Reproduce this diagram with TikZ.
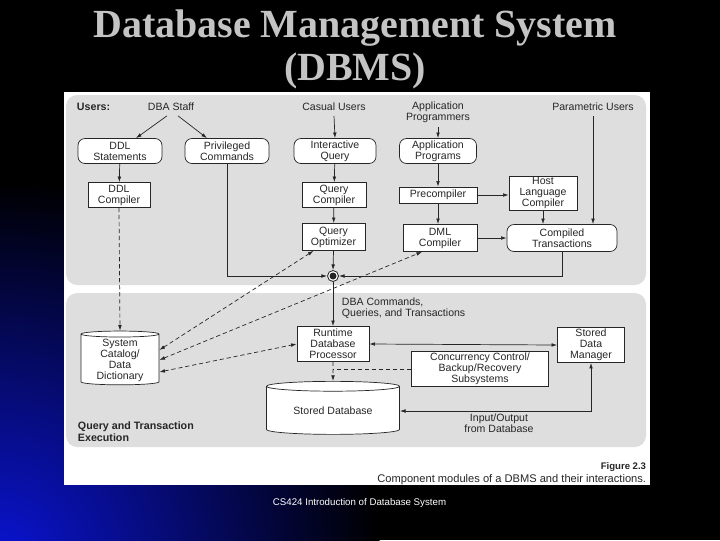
\documentclass[tikz,border=0pt]{standalone}
\usepackage{fontspec}
\setmainfont{Liberation Sans}
\newfontfamily\titlefont{Liberation Serif}
\usetikzlibrary{positioning,arrows.meta,shapes.geometric,calc}
\definecolor{panel}{HTML}{DEDEDE}
\definecolor{ink}{HTML}{262626}
\definecolor{titlegray}{HTML}{C4C4C4}
\definecolor{slideblue}{HTML}{0A14D2}

\begin{document}
\begin{tikzpicture}[x=0.025cm, y=-0.025cm, >={Latex[length=4pt,width=2.6pt]},
    every node/.style={font=\fontsize{7.5}{7.8}\selectfont, text=ink},
    box/.style={draw=ink, fill=white, line width=0.5pt, align=center, inner sep=1pt},
    rbox/.style={box, rounded corners=5pt},
    drum/.style={box, cylinder, shape border rotate=90, aspect=0.12},
    lbl/.style={align=center},
    flow/.style={->, draw=ink, line width=0.5pt},
    dflow/.style={flow, dash pattern=on 3pt off 2pt}]
  \useasboundingbox (0,0) rectangle (720,540);
  % slide background
  \begin{scope}
    \clip (0,0) rectangle (720,540);
    \fill[black] (0,0) rectangle (720,540);
    \shade[inner color=slideblue, outer color=black] (0,560) circle (380);
  \end{scope}
  \fill[white] (64,92) rectangle (650,485);
  \fill[panel, rounded corners=8pt] (66,95) rectangle (646,285);
  \fill[panel, rounded corners=8pt] (66,293) rectangle (646,447);

  \node[font=\titlefont\bfseries\fontsize{28.4}{30}\selectfont, text=titlegray, anchor=base] (title1) at (355,37) {Database Management System};
  \node[font=\titlefont\bfseries\fontsize{28.4}{30}\selectfont, text=titlegray, anchor=base] (title2) at (355,80) {(DBMS)};

  % users
  \node[font=\fontsize{7.6}{8}\selectfont\bfseries, anchor=west] (users) at (72,107) {Users:};
  \node[lbl] (dba) at (171,107) {DBA Staff};
  \node[lbl] (casual) at (334,107) {Casual Users};
  \node[lbl] (appprog) at (438,112) {Application\\Programmers};
  \node[lbl] (param) at (593,107) {Parametric Users};

  % top modules
  \node[rbox, minimum width=2.1cm, minimum height=0.625cm] (ddls) at (120,151) {DDL\\Statements};
  \node[rbox, minimum width=2.1cm, minimum height=0.625cm] (privc) at (227,151) {Privileged\\Commands};
  \node[rbox, minimum width=2.05cm, minimum height=0.625cm] (iq) at (335,151) {Interactive\\Query};
  \node[rbox, minimum width=1.925cm, minimum height=0.625cm] (apppr) at (438,151) {Application\\Programs};
  \node[box, minimum width=1.55cm, minimum height=0.625cm] (ddlc) at (119,195) {DDL\\Compiler};
  \node[box, minimum width=1.6cm, minimum height=0.625cm] (qcomp) at (334,195) {Query\\Compiler};
  \node[box, minimum width=1.95cm, minimum height=0.4cm] (precomp) at (438,195) {Precompiler};
  \node[box, minimum width=1.7cm, minimum height=0.8cm] (hlc) at (543,193) {Host\\Language\\Compiler};
  \node[box, minimum width=1.575cm, minimum height=0.675cm] (qopt) at (333.5,237) {Query\\Optimizer};
  \node[box, minimum width=1.85cm, minimum height=0.675cm] (dmlc) at (440,238) {DML\\Compiler};
  \node[rbox, minimum width=2.75cm, minimum height=0.675cm] (ct) at (562,238) {Compiled\\Transactions};
  \node[circle, draw=ink, fill=white, line width=0.6pt, inner sep=0pt, minimum size=0.275cm] (jn) at (333,276) {};
  \fill[ink] (jn.center) circle (3.5);

  % execution modules
  \node[lbl, anchor=west, align=left] (dbacmd) at (337,308) {DBA Commands,\\Queries, and Transactions};
  \node[box, minimum width=1.8cm, minimum height=0.875cm] (rdp) at (333,344) {Runtime\\Database\\Processor};
  \node[drum, minimum width=1.95cm, minimum height=1.325cm] (cat) at (120,360) {System\\Catalog/\\Data\\Dictionary};
  \node[drum, minimum width=3.325cm, minimum height=1.325cm] (sdb) at (333,411) {Stored Database};
  \node[box, minimum width=3.425cm, minimum height=0.875cm] (ccbr) at (480,369) {Concurrency Control/\\Backup/Recovery\\Subsystems};
  \node[box, minimum width=1.675cm, minimum height=0.875cm] (sdm) at (591,345) {Stored\\Data\\Manager};
  \node[lbl] (io) at (499,423) {Input/Output\\from Database};
  \node[font=\fontsize{7.6}{8.4}\selectfont\bfseries, anchor=west, align=left] (qte) at (73,432) {Query and Transaction\\Execution};

  % caption and footer
  \node[font=\fontsize{6.8}{8}\selectfont\bfseries, anchor=east] (fig) at (651,467) {Figure 2.3};
  \node[font=\fontsize{7.9}{8}\selectfont, anchor=east] (cap) at (651,480) {Component modules of a DBMS and their interactions.};
  \node[font=\fontsize{6.9}{8}\selectfont, text=white, anchor=west] (foot) at (268,503) {CS424 Introduction of Database System};

  % connectors
  \draw[flow] ([xshift=-0.1cm]dba.south) -- ([xshift=0.4cm]ddls.north);
  \draw[flow] ([xshift=0.175cm]dba.south) -- ([xshift=-0.5cm]privc.north);
  \draw[flow] (casual.south) -- (iq.north);
  \draw[flow] (appprog.south) -- (apppr.north);
  \draw[flow] (ddls) -- (ddlc);
  \draw[flow] (iq) -- (qcomp);
  \draw[flow] (qcomp) -- (qopt);
  \draw[flow] (apppr) -- (precomp);
  \draw[flow] (precomp.east) -- (precomp.east -| hlc.west);
  \draw[flow] (precomp.south) -- (precomp.south |- dmlc.north);
  \draw[flow] (hlc.south) -- (hlc.south |- ct.north);
  \draw[flow] (param.south) -- (param.south |- ct.north);
  \draw[flow] (dmlc) -- (ct);
  \draw[flow] (privc.south) |- (jn.west);
  \draw[flow] (ct.south) |- (jn.east);
  \draw[flow] (qopt.south) -- (jn.north);
  \draw[flow] (jn.south) -- (rdp.north);
  \draw[dflow] (ddlc.south) -- (cat.north);
  \draw[dflow, <->] ([yshift=0.25cm]cat.east) -- ([xshift=-0.5cm]qopt.south);
  \draw[dflow, <->] (cat.east) -- ([xshift=-0.45cm]dmlc.south);
  \draw[dflow, <->] ([yshift=-0.3cm]cat.east) -- (rdp.west);
  \draw[flow, <->] (rdp.east) -- (sdm.west);
  \draw[dflow] (rdp.south) -- (sdb.north);
  \draw[draw=ink, line width=0.5pt, dash pattern=on 3pt off 2pt] (ccbr.west) -- (ccbr.west -| rdp.south);
  \draw[flow, <->] (sdb.east) -| (sdm.south);
\end{tikzpicture}
\end{document}
